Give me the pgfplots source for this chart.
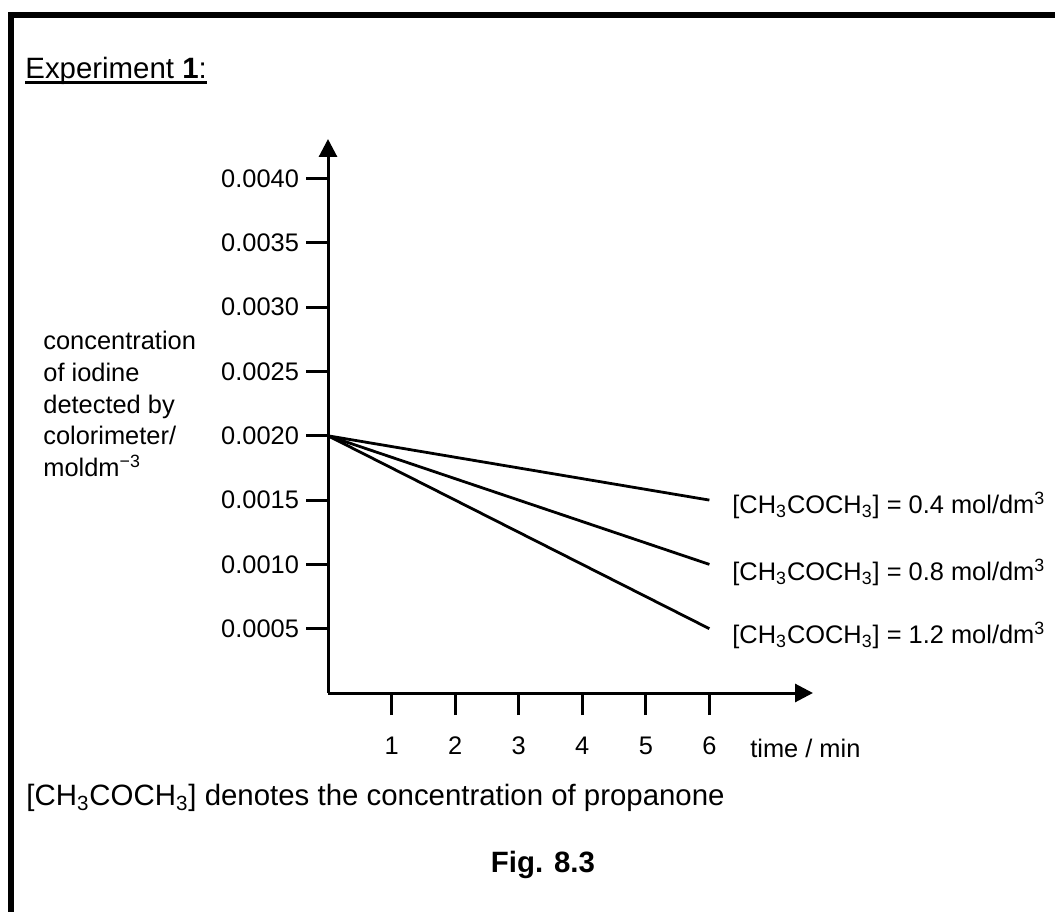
\documentclass[border=0pt]{standalone}
\usepackage{fontspec}
\setmainfont{Liberation Sans}
\usepackage{pgfplots}
\pgfplotsset{compat=1.18}
\usetikzlibrary{arrows.meta}
\begin{document}
\begin{tikzpicture}[x=1pt,y=1pt]
\path[use as bounding box] (0,0) rectangle (527.5,455.5);
\draw[line width=3pt, line cap=butt, line join=miter] (5.5,-3) -- (5.5,448) -- (531,448);
\node[name=ttl, anchor=base west, inner sep=0, font=\fontsize{14.7}{17}\selectfont] at (12.5,416) {Experiment \textbf{1}:};
\draw[line width=1.3pt] ([yshift=-1.9pt]ttl.base west) -- ([yshift=-1.9pt]ttl.base east);
\begin{axis}[
  at={(164pt,109pt)}, anchor=south west,
  scale only axis, width=242.5pt, height=277pt,
  xmin=0, xmax=7.63, ymin=0, ymax=0.004308,
  axis lines=left, clip=false,
  axis line style={line width=1.5pt, -{Triangle[width=9pt,length=9pt]}},
  tick align=outside, major tick length=11pt,
  major tick style={line width=1.5pt, black},
  xtick={1,2,3,4,5,6}, xticklabels={1,2,3,4,5,6},
  ytick={0.0005,0.0010,0.0015,0.0020,0.0025,0.0030,0.0035,0.0040},
  yticklabels={0.0005,0.0010,0.0015,0.0020,0.0025,0.0030,0.0035,0.0040},
  scaled y ticks=false,
  /pgf/number format/assume math mode=true,
  ticklabel style={font=\fontsize{12.7}{15}\selectfont},
  xticklabel style={yshift=-7.5pt},
  xlabel={time / min},
  every axis x label/.style={at={(axis description cs:0.870,-0.0993)}, anchor=west, inner sep=0pt, font=\fontsize{12.7}{15}\selectfont},
  ylabel={concentration\\of iodine\\detected by\\colorimeter/\\moldm\textsuperscript{−3}},
  every axis y label/.style={at={(axis description cs:-0.5876,0.5217)}, anchor=west, inner sep=0pt, align=left, font=\fontsize{12.7}{15.9}\selectfont},
]
\addplot[black, line width=1.4pt] coordinates {(0,0.0020) (6,0.0015)};
\addplot[black, line width=1.4pt] coordinates {(0,0.0020) (6,0.0010)};
\addplot[black, line width=1.4pt] coordinates {(0,0.0020) (6,0.0005)};
\node[anchor=west, inner sep=0pt, font=\fontsize{12.7}{15}\selectfont] at (axis cs:6.356,0.00146) {[CH\textsubscript{3}COCH\textsubscript{3}] = 0.4 mol/dm\textsuperscript{3}};
\node[anchor=west, inner sep=0pt, font=\fontsize{12.7}{15}\selectfont] at (axis cs:6.356,0.00094) {[CH\textsubscript{3}COCH\textsubscript{3}] = 0.8 mol/dm\textsuperscript{3}};
\node[anchor=west, inner sep=0pt, font=\fontsize{12.7}{15}\selectfont] at (axis cs:6.356,0.00045) {[CH\textsubscript{3}COCH\textsubscript{3}] = 1.2 mol/dm\textsuperscript{3}};
\end{axis}
\node[anchor=west, inner sep=0pt, font=\fontsize{14.7}{17}\selectfont] at (13,56.5) {[CH\textsubscript{3}COCH\textsubscript{3}] denotes the concentration of propanone};
\node[anchor=center, inner sep=0pt, font=\fontsize{14.7}{17}\selectfont\bfseries] at (271.5,23) {Fig. 8.3};
\end{tikzpicture}
\end{document}
